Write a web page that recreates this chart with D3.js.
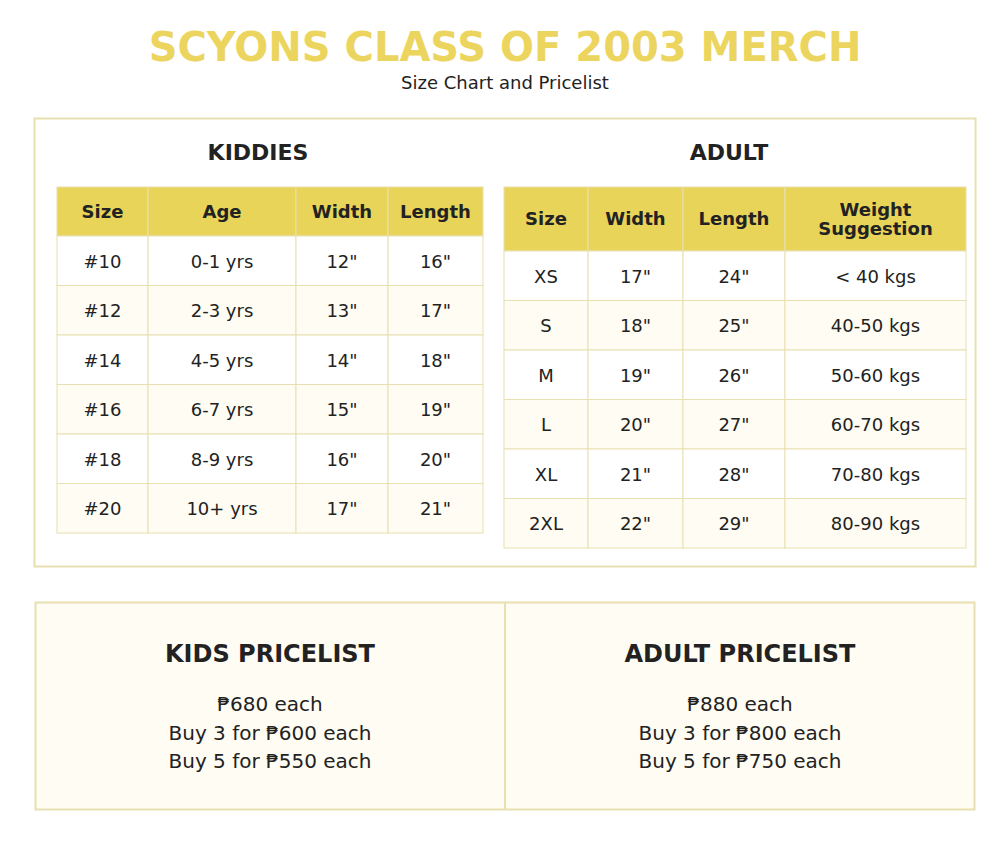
<!DOCTYPE html><html><head><meta charset="utf-8"><script src="https://cdn.jsdelivr.net/npm/d3@7"></script>
<style>body{margin:0;background:#fff}text{font-family:"DejaVu Sans",sans-serif}</style></head><body><svg id="c" width="1004" height="848"></svg>
<script>
const kidsHeaders=["Size","Age","Width","Length"];
const kidsSizes=["#10","#12","#14","#16","#18","#20"];
const kidsAges=["0-1 yrs","2-3 yrs","4-5 yrs","6-7 yrs","8-9 yrs","10+ yrs"];
const kidsWidth=[12,13,14,15,16,17];
const kidsLength=[16,17,18,19,20,21];
const adultHeaders=["Size","Width","Length","Weight Suggestion"];
const adultSizes=["XS","S","M","L","XL","2XL"];
const adultWidth=[17,18,19,20,21,22];
const adultLength=[24,25,26,27,28,29];
const adultWeight=["< 40 kgs","40-50 kgs","50-60 kgs","60-70 kgs","70-80 kgs","80-90 kgs"];
const kidsPrices=["₱680 each","Buy 3 for ₱600 each","Buy 5 for ₱550 each"];
const adultPrices=["₱880 each","Buy 3 for ₱800 each","Buy 5 for ₱750 each"];

const svg=d3.select("#c");
const gold="#e9d45a",border="#e8e0b0",alt="#fffcf3",ink="#222";
svg.append("text").attr("x",505).attr("y",61).attr("text-anchor","middle").attr("font-size",40).attr("font-weight","bold").attr("fill","#ecd55e").text("SCYONS CLASS OF 2003 MERCH");
svg.append("text").attr("x",505).attr("y",89).attr("text-anchor","middle").attr("font-size",18).attr("fill",ink).text("Size Chart and Pricelist");
svg.append("rect").attr("x",34.5).attr("y",118.5).attr("width",941).attr("height",448).attr("fill","#fff").attr("stroke",border).attr("stroke-width",2);

function table(title,tx,headers,rows,colEdges,top,hh,bottom){
  svg.append("text").attr("x",tx).attr("y",160).attr("text-anchor","middle").attr("font-size",22).attr("font-weight","bold").attr("fill",ink).text(title);
  const y=d3.scaleBand().domain(d3.range(rows.length)).range([top+hh,bottom]);
  const g=svg.append("g");
  headers.forEach((h,i)=>{
    g.append("rect").attr("x",colEdges[i]).attr("y",top).attr("width",colEdges[i+1]-colEdges[i]).attr("height",hh).attr("fill",gold).attr("stroke",border);
    const parts=h==="Weight Suggestion"?["Weight","Suggestion"]:[h];
    const t=g.append("text").attr("x",(colEdges[i]+colEdges[i+1])/2).attr("text-anchor","middle").attr("font-size",18).attr("font-weight","bold").attr("fill",ink);
    parts.forEach((p,k)=>t.append("tspan").attr("x",(colEdges[i]+colEdges[i+1])/2).attr("y",top+hh/2+6+(k-(parts.length-1)/2)*19).text(p));
  });
  rows.forEach((r,ri)=>r.forEach((v,ci)=>{
    g.append("rect").attr("x",colEdges[ci]).attr("y",y(ri)).attr("width",colEdges[ci+1]-colEdges[ci]).attr("height",y.bandwidth()).attr("fill",ri%2?alt:"#fff").attr("stroke",border);
    g.append("text").attr("x",(colEdges[ci]+colEdges[ci+1])/2).attr("y",y(ri)+y.bandwidth()/2+7).attr("text-anchor","middle").attr("font-size",18).attr("fill",ink).text(v);
  }));
}
table("KIDDIES",258,kidsHeaders,kidsSizes.map((s,i)=>[s,kidsAges[i],kidsWidth[i]+'"',kidsLength[i]+'"']),[57,148,296,388,483],187,49,533);
table("ADULT",729,adultHeaders,adultSizes.map((s,i)=>[s,adultWidth[i]+'"',adultLength[i]+'"',adultWeight[i]]),[504,588,683,785,966],187,64,548);

svg.append("rect").attr("x",35.5).attr("y",602.5).attr("width",939).attr("height",207).attr("fill",alt).attr("stroke",border).attr("stroke-width",2);
svg.append("line").attr("x1",505).attr("x2",505).attr("y1",603).attr("y2",809).attr("stroke",border).attr("stroke-width",2);
[["KIDS PRICELIST",270,kidsPrices],["ADULT PRICELIST",740,adultPrices]].forEach(([t,x,p])=>{
  svg.append("text").attr("x",x).attr("y",662).attr("text-anchor","middle").attr("font-size",24).attr("font-weight","bold").attr("fill",ink).text(t);
  p.forEach((s,i)=>svg.append("text").attr("x",x).attr("y",711+i*28.5).attr("text-anchor","middle").attr("font-size",20).attr("fill",ink).text(s));
});
</script></body></html>
